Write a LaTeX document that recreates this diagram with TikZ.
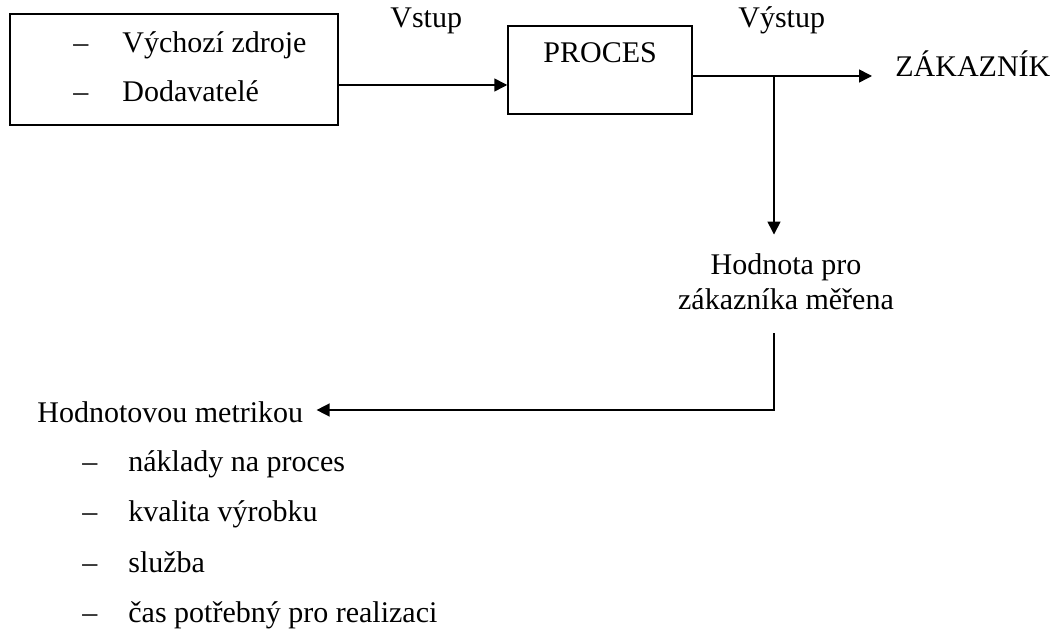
\documentclass[tikz,border=0pt]{standalone}
\usepackage{fontspec}
\setmainfont{Liberation Serif}
\usetikzlibrary{arrows.meta}

\begin{document}
\begin{tikzpicture}[x=0.5pt, y=-0.5pt,
  box/.style={draw, line width=0.75pt, inner sep=0pt},
  txt/.style={anchor=base west, inner sep=0pt},
  flow/.style={line width=0.75pt, -{Triangle[length=6.5pt,width=6.5pt]}}]

  \fontsize{15pt}{17.5pt}\selectfont
  \useasboundingbox (0,0) rectangle (1055,630);

  %% boxes
  \node[box, minimum width=164pt, minimum height=55.5pt] (src) at (174,69.5) {};
  \node[box, minimum width=92pt, minimum height=44pt] (proc) at (600,70) {};

  \node[txt] (srcDashA) at (73,53) {--};
  \node[txt] (srcA) at (122,53) {Výchozí zdroje};
  \node[txt] (srcDashB) at (73,102) {--};
  \node[txt] (srcB) at (122,102) {Dodavatelé};
  \node[txt] (procText) at (543,63) {PROCES};

  \node[txt] (inLabel) at (390,28) {Vstup};
  \node[txt] (outLabel) at (738,28) {Výstup};
  \node[txt] (cust) at (895,77) {ZÁKAZNÍK};

  \node[inner sep=0pt, align=center] (val) at (786,282)
    {Hodnota pro\\zákazníka měřena};

  %% metrics
  \node[txt] (metric) at (37,423) {Hodnotovou metrikou};
  \node[txt] (mDashA) at (82,472) {--};
  \node[txt] (mA) at (128,472) {náklady na proces};
  \node[txt] (mDashB) at (82,522) {--};
  \node[txt] (mB) at (128,522) {kvalita výrobku};
  \node[txt] (mDashC) at (82,572) {--};
  \node[txt] (mC) at (128,572) {služba};
  \node[txt] (mDashD) at (82,622) {--};
  \node[txt] (mD) at (128,622) {čas potřebný pro realizaci};

  \coordinate (in) at (0,85);
  \coordinate (out) at (0,76);
  \coordinate (split) at (774,76);
  \coordinate (corner) at (774,410);

  \draw[flow] (src.east |- in) -- (proc.west |- in);
  \draw[flow, shorten >=11.5pt] (proc.east |- out) -- (cust.west |- out);
  \draw[flow, shorten >=9.5pt] (split) -- (split |- val.north);
  \draw[flow, shorten <=11.5pt, shorten >=6.5pt]
    (split |- val.south) |- (metric.east |- corner);

\end{tikzpicture}
\end{document}
